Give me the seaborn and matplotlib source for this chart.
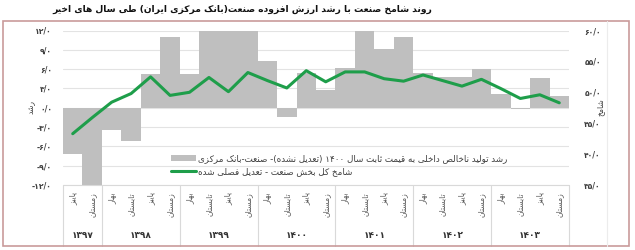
import re
import numpy as np
import pandas as pd
import matplotlib
matplotlib.use("Agg")
import matplotlib.pyplot as plt
import matplotlib.transforms as mtransforms
from matplotlib.patches import Patch, Rectangle
from matplotlib.lines import Line2D
import seaborn as sns

# ---------------- data ----------------
years = ["۱۳۹۷", "۱۳۹۸", "۱۳۹۹", "۱۴۰۰", "۱۴۰۱", "۱۴۰۲", "۱۴۰۳"]
quarters_per_year = [2, 4, 4, 4, 4, 4, 4]
seasons = ["پاییز", "زمستان",
           "بهار", "تابستان", "پاییز", "زمستان",
           "بهار", "تابستان", "پاییز", "زمستان",
           "بهار", "تابستان", "پاییز", "زمستان",
           "بهار", "تابستان", "پاییز", "زمستان",
           "بهار", "تابستان", "پاییز", "زمستان",
           "بهار", "تابستان", "پاییز", "زمستان"]
growth = [-7.2, -12.8, -3.4, -5.1, 5.2, 11.0, 5.3, 12.8, 13.2, 12.6,
          7.3, -1.4, 5.4, 2.7, 6.1, 12.1, 9.1, 11.0, 5.4, 4.8,
          4.8, 6.0, 2.1, -0.2, 4.6, 1.9]
shamekh = [43.3, 45.9, 48.4, 49.8, 52.5, 49.5, 50.0, 52.4, 50.1, 53.2,
           51.9, 50.7, 53.5, 51.7, 53.3, 53.3, 52.2, 51.8, 52.8, 51.9,
           51.0, 52.1, 50.6, 49.0, 49.6, 48.3]
left_ticks = [-12, -9, -6, -3, 0, 3, 6, 9, 12]
right_ticks = [35, 40, 45, 50, 55, 60]

title = "روند شامخ صنعت با رشد ارزش افزوده صنعت(بانک مرکزی ایران) طی سال های اخیر"
label_bar = "رشد تولید ناخالص داخلی به قیمت ثابت سال ۱۴۰۰ (تعدیل نشده)- صنعت-بانک مرکزی"
label_line = "شامخ کل بخش صنعت - تعدیل فصلی شده"
ylabel_left = "رشد"
ylabel_right = "شامخ"

# ---------------- Persian shaping helpers ----------------
FORMS = {
    'ا': ('\uFE8D', '\uFE8E', None, None), 'آ': ('\uFE81', '\uFE82', None, None),
    'ب': ('\uFE8F', '\uFE90', '\uFE91', '\uFE92'), 'پ': ('\uFB56', '\uFB57', '\uFB58', '\uFB59'),
    'ت': ('\uFE95', '\uFE96', '\uFE97', '\uFE98'), 'ث': ('\uFE99', '\uFE9A', '\uFE9B', '\uFE9C'),
    'ج': ('\uFE9D', '\uFE9E', '\uFE9F', '\uFEA0'), 'چ': ('\uFB7A', '\uFB7B', '\uFB7C', '\uFB7D'),
    'ح': ('\uFEA1', '\uFEA2', '\uFEA3', '\uFEA4'), 'خ': ('\uFEA5', '\uFEA6', '\uFEA7', '\uFEA8'),
    'د': ('\uFEA9', '\uFEAA', None, None), 'ذ': ('\uFEAB', '\uFEAC', None, None),
    'ر': ('\uFEAD', '\uFEAE', None, None), 'ز': ('\uFEAF', '\uFEB0', None, None),
    'ژ': ('\uFB8A', '\uFB8B', None, None),
    'س': ('\uFEB1', '\uFEB2', '\uFEB3', '\uFEB4'), 'ش': ('\uFEB5', '\uFEB6', '\uFEB7', '\uFEB8'),
    'ص': ('\uFEB9', '\uFEBA', '\uFEBB', '\uFEBC'), 'ض': ('\uFEBD', '\uFEBE', '\uFEBF', '\uFEC0'),
    'ط': ('\uFEC1', '\uFEC2', '\uFEC3', '\uFEC4'), 'ظ': ('\uFEC5', '\uFEC6', '\uFEC7', '\uFEC8'),
    'ع': ('\uFEC9', '\uFECA', '\uFECB', '\uFECC'), 'غ': ('\uFECD', '\uFECE', '\uFECF', '\uFED0'),
    'ف': ('\uFED1', '\uFED2', '\uFED3', '\uFED4'), 'ق': ('\uFED5', '\uFED6', '\uFED7', '\uFED8'),
    'ک': ('\uFB8E', '\uFB8F', '\uFB90', '\uFB91'), 'گ': ('\uFB92', '\uFB93', '\uFB94', '\uFB95'),
    'ل': ('\uFEDD', '\uFEDE', '\uFEDF', '\uFEE0'), 'م': ('\uFEE1', '\uFEE2', '\uFEE3', '\uFEE4'),
    'ن': ('\uFEE5', '\uFEE6', '\uFEE7', '\uFEE8'), 'ه': ('\uFEE9', '\uFEEA', '\uFEEB', '\uFEEC'),
    'و': ('\uFEED', '\uFEEE', None, None),
    'ی': ('\uFBFC', '\uFBFD', '\uFBFE', '\uFBFF'), 'ئ': ('\uFE89', '\uFE8A', '\uFE8B', '\uFE8C'),
}


def _dual(c):
    return c in FORMS and FORMS[c][2] is not None


def reshape(s):
    out = []
    n = len(s)
    for i, c in enumerate(s):
        if c not in FORMS:
            out.append(c)
            continue
        prev_join = i > 0 and _dual(s[i - 1])
        next_join = _dual(c) and i + 1 < n and s[i + 1] in FORMS
        iso, fin, ini, med = FORMS[c]
        if prev_join and next_join:
            out.append(med)
        elif prev_join:
            out.append(fin)
        elif next_join:
            out.append(ini)
        else:
            out.append(iso)
    return ''.join(out)


MIRROR = str.maketrans({'(': ')', ')': '('})


def fa(s):
    shaped = reshape(s)
    runs = re.findall(r'[0-9۰-۹]+|[^0-9۰-۹]+', shaped)
    res = []
    for r in reversed(runs):
        if re.match(r'[0-9۰-۹]', r):
            res.append(r)
        else:
            res.append(r[::-1].translate(MIRROR))
    return ''.join(res)


PD = str.maketrans('0123456789.', '۰۱۲۳۴۵۶۷۸۹/')


def fnum(v):
    return f"{v:.1f}".translate(PD)

# ---------------- figure ----------------
sns.set_theme(style="white")
plt.rcParams['font.family'] = ['DejaVu Sans']

W, H = 635, 250
fig = plt.figure(figsize=(W / 100, H / 100), dpi=100)
x0, x1, yt, yb = 63, 569, 30.5, 185
ax = fig.add_axes([x0 / W, 1 - yb / H, (x1 - x0) / W, (yb - yt) / H])

n = len(growth)
df = pd.DataFrame({"q": np.arange(n), "growth": growth, "shamekh": shamekh})

for t in left_ticks:
    ax.axhline(t, color="#e3e3e3", lw=0.8, zorder=0)
sns.barplot(data=df, x="q", y="growth", ax=ax, color="#bfbfbf", width=1.0,
            saturation=1, linewidth=0, zorder=2)
ax.set_ylim(-12, 12)
ax.set_xlim(-0.5, n - 0.5)
ax.set_yticks(left_ticks)
ax.set_yticklabels([fnum(v) for v in left_ticks], fontsize=5.5, fontweight="bold",
                   color="#404040")
ax.tick_params(axis="y", length=0, pad=8)
ax.set_xticks([])
ax.set_xlabel("")
ax.set_ylabel("")
for sp in ax.spines.values():
    sp.set_visible(False)

ax2 = ax.twinx()
sns.lineplot(data=df, x="q", y="shamekh", ax=ax2, color="#1e9e4a", lw=2.2, zorder=5)
ax2.set_ylim(35, 60)
ax2.set_xlim(-0.5, n - 0.5)
ax2.set_yticks(right_ticks)
ax2.set_yticklabels([fnum(v) for v in right_ticks], fontsize=5.5, fontweight="bold",
                    color="#404040")
ax2.tick_params(axis="y", length=0, pad=11)
ax2.set_ylabel("")
ax2.set_xlabel("")
for sp in ax2.spines.values():
    sp.set_visible(False)

# axis titles
fig.text(31 / W, 1 - 107 / H, fa(ylabel_left), rotation=90, ha="center", va="center",
         fontsize=5.5, color="#404040")
fig.text(600 / W, 1 - 107 / H, fa(ylabel_right), rotation=90, ha="center", va="center",
         fontsize=5.5, color="#404040")

# x-axis table
trans = mtransforms.blended_transform_factory(ax.transData, ax.transAxes)
ph = yb - yt
bottom_ax = -(246 - yb) / ph
ax.plot([-0.5, n - 0.5], [0, 0], transform=trans, color="#d9d9d9", lw=0.8,
        clip_on=False, zorder=3)
bounds = np.concatenate([[0], np.cumsum(quarters_per_year)]) - 0.5
for b in bounds:
    ax.plot([b, b], [0, bottom_ax], transform=trans, color="#d9d9d9", lw=0.8,
            clip_on=False)
for i, s in enumerate(seasons):
    ax.text(i, -(192 - yb) / ph, fa(s), transform=trans, rotation=90, ha="center",
            va="top", fontsize=5.5, color="#595959")
for k, y in enumerate(years):
    c = (bounds[k] + bounds[k + 1]) / 2
    ax.text(c, -(235 - yb) / ph, y, transform=trans, ha="center", va="center",
            fontsize=6.5, fontweight="bold", color="#333333")

# legend
handles = [Patch(facecolor="#bfbfbf", edgecolor="none"),
           Line2D([], [], color="#1e9e4a", lw=2.2)]
leg = ax2.legend(handles, [fa(label_bar), fa(label_line)], loc="upper left",
                 bbox_to_anchor=((165 - x0) / (x1 - x0), (yb - 148) / ph),
                 frameon=False, fontsize=6.3, handlelength=2.8, handleheight=0.6,
                 handletextpad=0.3, labelspacing=0.45, borderpad=0.2)
for t in leg.get_texts():
    t.set_color("#404040")

# title
fig.text(242 / W, 1 - 9 / H, fa(title), ha="center", va="center", fontsize=6.6,
         fontweight="bold", color="#111111")

# frame
fig.add_artist(Rectangle((3 / W, 1 - 246 / H), 626 / W, 225 / H, transform=fig.transFigure,
                         fill=False, edgecolor="#c99b9b", lw=1.2))
fig.add_artist(Line2D([607 / W, 607 / W], [1 - 246 / H, 1 - 21 / H], transform=fig.transFigure,
                      color="#ececec", lw=0.8))

fig.savefig("out.png", dpi=100)
